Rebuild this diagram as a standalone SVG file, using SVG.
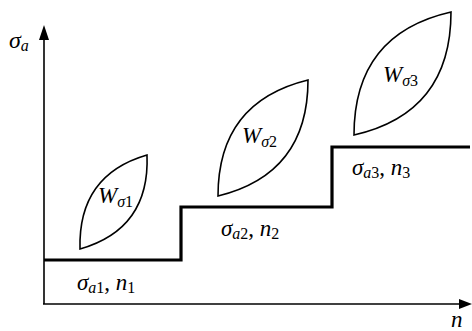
<svg xmlns="http://www.w3.org/2000/svg" width="472" height="331" viewBox="0 0 472 331">
<style>
.ax{stroke:#000;stroke-width:1.6;fill:none}
.st{stroke:#000;stroke-width:3.2;fill:none}
.lf{stroke:#000;stroke-width:1.6;fill:none}
.t{font-family:"Liberation Serif","DejaVu Serif",serif;fill:#000;font-style:italic;font-size:23px}
.s{font-size:16px}
.u{font-style:normal}
</style>
<rect width="472" height="331" fill="#fff"/>
<g id="connectors">
<path class="ax" d="M44,304 V38"/>
<polygon points="44,25 39,40 49,40" fill="#000"/>
<path class="ax" d="M43,304 H460"/>
<polygon points="472,304 459,299 459,309" fill="#000"/>
<path class="st" d="M44,260 H181 V207 H332 V147 H470"/>
</g>
<g id="leaf1">
<path class="lf" d="M80,249 Q78,175 147,155 Q150,229 80,249 Z"/>
<text class="t" x="98" y="203">W<tspan class="s" dy="4">σ</tspan><tspan class="s u">1</tspan></text>
</g>
<g id="leaf2">
<path class="lf" d="M218,196 Q218,102 308,80 Q308,174 218,196 Z"/>
<text class="t" x="242" y="143">W<tspan class="s" dy="4">σ</tspan><tspan class="s u">2</tspan></text>
</g>
<g id="leaf3">
<path class="lf" d="M354,135 Q354,34 451,12 Q451,113 354,135 Z"/>
<text class="t" x="383" y="82">W<tspan class="s" dy="4">σ</tspan><tspan class="s u">3</tspan></text>
</g>
<g id="labels">
<text class="t" x="9" y="48" style="font-size:24px">σ<tspan class="s" dy="3">a</tspan></text>
<text class="t" x="77" y="290">σ<tspan class="s" dy="3">a</tspan><tspan class="s u">1</tspan><tspan class="u" dy="-3">, </tspan>n<tspan class="s u" dy="3">1</tspan></text>
<text class="t" x="221" y="236">σ<tspan class="s" dy="3">a</tspan><tspan class="s u">2</tspan><tspan class="u" dy="-3">, </tspan>n<tspan class="s u" dy="3">2</tspan></text>
<text class="t" x="352" y="175">σ<tspan class="s" dy="3">a</tspan><tspan class="s u">3</tspan><tspan class="u" dy="-3">, </tspan>n<tspan class="s u" dy="3">3</tspan></text>
<text class="t" x="451" y="327">n</text>
</g>
</svg>
